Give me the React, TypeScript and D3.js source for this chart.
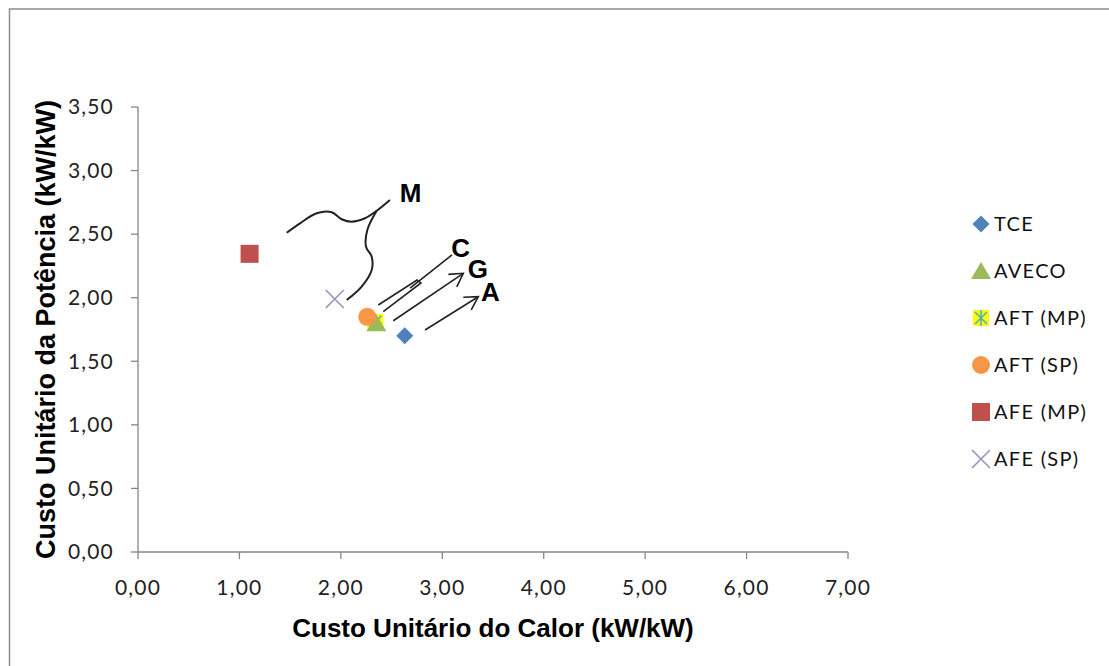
import React from 'react';
import * as d3 from 'd3';

// ---- data ----
const seriesNames = ['TCE', 'AVECO', 'AFT (MP)', 'AFT (SP)', 'AFE (MP)', 'AFE (SP)'];
const heatCost = [2.63, 2.35, 2.34, 2.26, 1.1, 1.94];
const powerCost = [1.7, 1.8, 1.81, 1.85, 2.345, 1.99];
const seriesColors = ['#4F81BD', '#9BBB59', '#4BACC6', '#F79646', '#C0504D', '#9E8DC4'];
const xTicks = [0, 1, 2, 3, 4, 5, 6, 7];
const yTicks = [0, 0.5, 1, 1.5, 2, 2.5, 3, 3.5];
const xTitle = 'Custo Unitário do Calor (kW/kW)';
const yTitle = 'Custo Unitário da Potência (kW/kW)';

// annotation shapes (data units)
const braceUpper: [number, number][] = [
  [2.484, 2.769], [2.353, 2.684], [2.238, 2.625], [2.107, 2.598], [2.008, 2.617],
  [1.91, 2.672], [1.762, 2.664], [1.597, 2.585], [1.466, 2.511],
];
const braceLower: [number, number][] = [
  [2.353, 2.684], [2.261, 2.533], [2.248, 2.401], [2.304, 2.323], [2.304, 2.218],
  [2.205, 2.087], [2.058, 1.982],
];
const forkC: [number, number][] = [[2.369, 1.943], [2.751, 2.139], [2.79, 2.116], [2.418, 1.89]];
const shaftC: [number, number][] = [[2.682, 2.076], [3.096, 2.336]];
const arrowG: [number, number][] = [[2.517, 1.819], [3.207, 2.192]];
const arrowA: [number, number][] = [[2.83, 1.746], [3.355, 2.008]];
const labels: { t: string; x: number; y: number }[] = [
  { t: 'M', x: 2.687, y: 2.828 },
  { t: 'C', x: 3.181, y: 2.395 },
  { t: 'G', x: 3.352, y: 2.225 },
  { t: 'A', x: 3.475, y: 2.05 },
];

const W = 1109;
const H = 666;
const x = d3.scaleLinear().domain([0, 7]).range([138, 848]);
const y = d3.scaleLinear().domain([0, 3.5]).range([552, 107]);
const fmt = (v: number) => v.toFixed(2).replace('.', ',');

function Marker({ i, cx, cy }: { i: number; cx: number; cy: number }) {
  const c = seriesColors[i];
  switch (i) {
    case 0:
      return <path d={`M${cx},${cy - 8.5}L${cx + 8.5},${cy}L${cx},${cy + 8.5}L${cx - 8.5},${cy}Z`} fill={c} />;
    case 1:
      return <path d={`M${cx},${cy - 9}L${cx + 10},${cy + 8}L${cx - 10},${cy + 8}Z`} fill={c} />;
    case 2:
      return (
        <g>
          <rect x={cx - 8} y={cy - 8} width={16} height={16} fill="#FFFF00" />
          <path d={`M${cx - 6},${cy - 6}L${cx + 6},${cy + 6}M${cx + 6},${cy - 6}L${cx - 6},${cy + 6}M${cx},${cy - 8}L${cx},${cy + 8}`} stroke={c} strokeWidth={1.5} />
        </g>
      );
    case 3:
      return <circle cx={cx} cy={cy} r={9} fill={c} />;
    case 4:
      return <rect x={cx - 9} y={cy - 9} width={18} height={18} fill={c} />;
    default:
      return <path d={`M${cx - 9},${cy - 9}L${cx + 9},${cy + 9}M${cx + 9},${cy - 9}L${cx - 9},${cy + 9}`} stroke={c} strokeWidth={1.6} fill="none" />;
  }
}

function arrowHead(p: [number, number][]) {
  const x0 = x(p[0][0]), y0 = y(p[0][1]), x1 = x(p[1][0]), y1 = y(p[1][1]);
  const a = Math.atan2(y0 - y1, x0 - x1);
  const L = 15, s = Math.PI / 6;
  return `M${x1 + L * Math.cos(a + s)},${y1 + L * Math.sin(a + s)}L${x1},${y1}L${x1 + L * Math.cos(a - s)},${y1 + L * Math.sin(a - s)}`;
}

export default function App() {
  const line = d3.line<[number, number]>().x(d => x(d[0])).y(d => y(d[1]));
  const curve = d3.line<[number, number]>().x(d => x(d[0])).y(d => y(d[1])).curve(d3.curveCatmullRom);
  const drawOrder = [0, 2, 1, 3, 4, 5];
  const legendY = [224, 271, 318, 365, 412, 459];
  const tickFont = { fontFamily: 'Lato, "Open Sans", sans-serif', fontSize: 21, letterSpacing: 1.2, fill: '#222' };
  const titleFont = { fontFamily: '"Liberation Sans", Arial, sans-serif', fontWeight: 'bold' as const, fill: '#000' };
  return (
    <svg width={W} height={H} style={{ position: 'absolute', left: 0, top: 0, background: '#fff' }}>
      <rect x={0} y={0} width={W} height={H} fill="#fff" />
      <rect x={9.5} y={9} width={W + 20} height={H + 20} fill="none" stroke="#8c8c8c" strokeWidth={1.5} />

      {/* axes */}
      <line x1={x(0)} x2={x(7)} y1={y(0)} y2={y(0)} stroke="#868686" strokeWidth={1.3} />
      <line x1={x(0)} x2={x(0)} y1={y(0)} y2={y(3.5)} stroke="#868686" strokeWidth={1.3} />
      {xTicks.map(t => (
        <g key={'xt' + t}>
          <line x1={x(t)} x2={x(t)} y1={y(0)} y2={y(0) + 7} stroke="#868686" strokeWidth={1.3} />
          <text x={x(t)} y={595} textAnchor="middle" {...tickFont}>{fmt(t)}</text>
        </g>
      ))}
      {yTicks.map(t => (
        <g key={'yt' + t}>
          <line x1={x(0) - 7} x2={x(0)} y1={y(t)} y2={y(t)} stroke="#868686" strokeWidth={1.3} />
          <text x={114} y={y(t)} dy="0.35em" textAnchor="end" {...tickFont}>{fmt(t)}</text>
        </g>
      ))}
      <text x={(x(0) + x(7)) / 2} y={637} textAnchor="middle" fontSize={26} {...titleFont}>{xTitle}</text>
      <text transform={`translate(55,${(y(0) + y(3.5)) / 2}) rotate(-90)`} textAnchor="middle" fontSize={27} {...titleFont}>{yTitle}</text>

      {/* points */}
      {drawOrder.map(i => (
        <Marker key={'m' + i} i={i} cx={x(heatCost[i])} cy={y(powerCost[i])} />
      ))}

      {/* annotations */}
      <g fill="none" stroke="#222" strokeWidth={2}>
        <path d={curve(braceUpper) || ''} />
        <path d={curve(braceLower) || ''} />
      </g>
      <g fill="none" stroke="#222" strokeWidth={1.6}>
        <path d={line(forkC) || ''} />
        <path d={line(shaftC) || ''} />
        <path d={line(arrowG) || ''} />
        <path d={arrowHead(arrowG)} />
        <path d={line(arrowA) || ''} />
        <path d={arrowHead(arrowA)} />
      </g>
      {labels.map(l => (
        <text key={l.t} x={x(l.x)} y={y(l.y)} dy="0.36em" textAnchor="middle" fontSize={26} {...titleFont}>{l.t}</text>
      ))}

      {/* legend */}
      {seriesNames.map((n, i) => (
        <g key={'lg' + i}>
          <Marker i={i} cx={981} cy={legendY[i]} />
          <text x={994} y={legendY[i]} dy="0.36em" fontFamily='Lato, "Open Sans", sans-serif' fontSize={20} letterSpacing={1.3} fill="#111">{n}</text>
        </g>
      ))}
    </svg>
  );
}
